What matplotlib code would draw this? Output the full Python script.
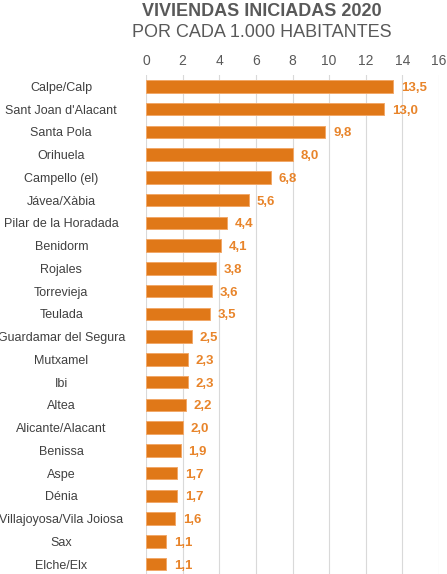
import matplotlib
matplotlib.use('Agg')
import matplotlib.pyplot as plt


municipios = [
    'Calpe/Calp', "Sant Joan d'Alacant", 'Santa Pola', 'Orihuela',
    'Campello (el)', 'Jávea/Xàbia', 'Pilar de la Horadada', 'Benidorm',
    'Rojales', 'Torrevieja', 'Teulada', 'Guardamar del Segura',
    'Mutxamel', 'Ibi', 'Altea', 'Alicante/Alacant', 'Benissa', 'Aspe',
    'Dénia', 'Villajoyosa/Vila Joiosa', 'Sax', 'Elche/Elx',
]
viviendas = [13.5, 13.0, 9.8, 8.0, 6.8, 5.6, 4.4, 4.1, 3.8, 3.6, 3.5,
             2.5, 2.3, 2.3, 2.2, 2.0, 1.9, 1.7, 1.7, 1.6, 1.1, 1.1]
ticks_x = [0, 2, 4, 6, 8, 10, 12, 14, 16]

NARANJA = '#e07818'
GRIS = '#595959'

plt.rcParams['font.family'] = ['Liberation Sans', 'DejaVu Sans']

fig = plt.figure(figsize=(4.47, 5.74), dpi=100)
# eje: x de 146 a 439 px, y de 75 a 575 px (desde arriba)
ax = fig.add_axes([146 / 447, -1.5 / 574, (439 - 146) / 447, (575.5 - 75) / 574])

pos = list(range(len(municipios)))
ax.barh(pos, viviendas, height=0.54, color=NARANJA,
        edgecolor='#f2a868', linewidth=0.7, zorder=3)

for y, v in zip(pos, viviendas):
    ax.text(v + 0.42, y, f'{v:.1f}'.replace('.', ','), va='center_baseline',
            ha='left', fontsize=9.5, fontweight='bold', color='#e8842a',
            zorder=4)

ax.set_ylim(len(municipios) - 0.5, -0.5)
ax.set_xlim(0, 16)
ax.set_xticks(ticks_x)
ax.xaxis.tick_top()
ax.tick_params(axis='x', length=0, pad=5, labelsize=10, labelcolor=GRIS)
ax.set_yticks(pos)
ax.set_yticklabels(municipios, ha='center')
ax.tick_params(axis='y', length=0, pad=61, labelsize=9, labelcolor='#404040')

ax.grid(True, axis='x', color='#d9d9d9', linewidth=0.8, zorder=0)
ax.set_axisbelow(True)
for s in ax.spines.values():
    s.set_visible(False)

fig.text(262 / 447, 1 - 16.5 / 574, 'VIVIENDAS INICIADAS 2020', ha='center',
         va='baseline', fontsize=13, fontweight='bold', color=GRIS)
fig.text(262 / 447, 1 - 37 / 574, 'POR CADA 1.000 HABITANTES', ha='center',
         va='baseline', fontsize=13, color=GRIS)

fig.savefig('out.png', dpi=100)
